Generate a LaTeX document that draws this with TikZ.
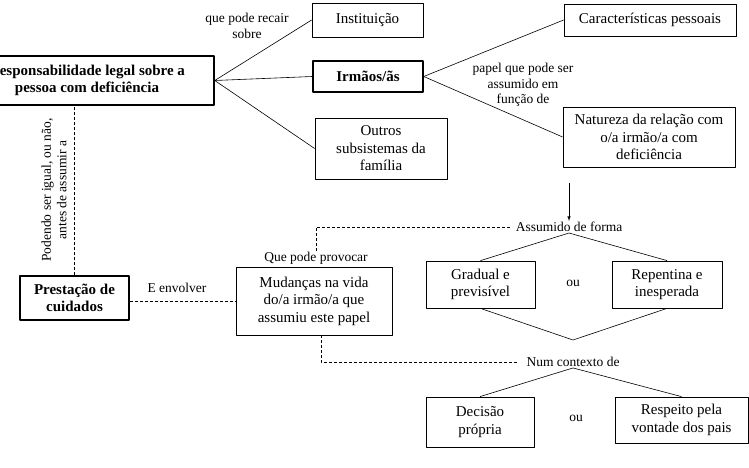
\documentclass[tikz,border=0pt]{standalone}
\usepackage{fontspec}
\setmainfont{Liberation Serif}
\begin{document}
\begin{tikzpicture}[x=1pt, y=-1pt, line join=round, >=latex,
	box/.style={draw, line width=0.8pt, align=center, inner sep=0pt, font=\fontsize{15}{17.5}\selectfont},
	bbox/.style={box, line width=1.5pt, font=\fontsize{15}{17.5}\selectfont\bfseries},
	lab/.style={align=center, inner sep=1pt, font=\fontsize{13.5}{15.5}\selectfont},
	dsh/.style={line width=0.7pt, dash pattern=on 3pt off 2pt}]
		\useasboundingbox (0,0) rectangle (749,468);
		\node[bbox, minimum width=254pt, minimum height=49pt] (R) at (87,80.5) {Responsabilidade legal sobre a\\pessoa com deficiência};
		\node[box, minimum width=111pt, minimum height=34pt] (I) at (367.5,20) {Instituição};
		\node[bbox, minimum width=110pt, minimum height=31pt] (M) at (368,76.5) {Irmãos/ãs};
		\node[box, minimum width=132pt, minimum height=61pt] (O) at (381,148.5) {Outros\\subsistemas da\\família};
		\node[box, minimum width=172pt, minimum height=32pt] (C) at (650,20) {Características pessoais};
		\node[box, minimum width=172pt, minimum height=60pt] (N) at (649,137) {Natureza da relação com\\o/a irmão/a com\\deficiência};
		\node[box, minimum width=109pt, minimum height=47pt] (G) at (480.5,284.5) {Gradual e\\previsível};
		\node[box, minimum width=110pt, minimum height=47pt] (P) at (667,284.5) {Repentina e\\inesperada};
		\node[box, minimum width=108pt, minimum height=50pt] (D) at (480,422) {Decisão\\própria};
		\node[box, minimum width=133pt, minimum height=46pt] (V) at (681.5,420) {Respeito pela\\vontade dos pais};
		\node[bbox, minimum width=109pt, minimum height=44pt] (S) at (74.5,298) {Prestação de\\cuidados};
		\node[box, minimum width=156pt, minimum height=68pt] (U) at (314,301) {Mudanças na vida\\do/a irmão/a que\\assumiu este papel};
		\node[lab] (L1) at (247,26) {que pode recair\\sobre};
		\node[lab] (L2) at (523,85) {papel que pode ser\\assumido em\\função de};
		\node[lab] (A1) at (569,227) {Assumido de forma};
		\node[lab] (A2) at (573,362) {Num contexto de};
		\node[lab] (O1) at (573,283) {ou};
		\node[lab] (O2) at (576,418) {ou};
		\node[lab] (E) at (177,288) {E envolver};
		\node[lab] (Q) at (316,258) {Que pode provocar};
		\node[lab, rotate=90] (L3) at (54,190) {Podendo ser igual, ou não,\\antes de assumir a};
		\coordinate (T) at (569,183);
		\coordinate (B) at (573,340);
		\draw[line width=0.6pt] (R.east)--(I.west);
		\draw[line width=0.6pt] (R.east)--(M.west);
		\draw[line width=0.6pt] (R.east)--(O.west);
		\draw[line width=0.6pt] (M.east)--(C.west);
		\draw[line width=0.6pt] (M.east)--(N.west);
		\draw[line width=0.6pt, ->] (T)--(A1.north);
		\draw[line width=0.6pt] (G.north)--(A1.south)--(P.north);
		\draw[line width=0.6pt] (G.south)--(B)--(P.south);
		\draw[line width=0.6pt] (D.north)--(A2.south)--(V.north);
		\draw[dsh] (S.north)--(S.north |- R.south);
		\draw[dsh] (U.west -| S.east)--(U.west);
		\draw[dsh, shorten >=5pt] (Q.north)|-(A1.west);
		\draw[dsh, shorten >=7pt] ([xshift=7pt]U.south)|-(A2.west);
		\end{tikzpicture}
\end{document}
